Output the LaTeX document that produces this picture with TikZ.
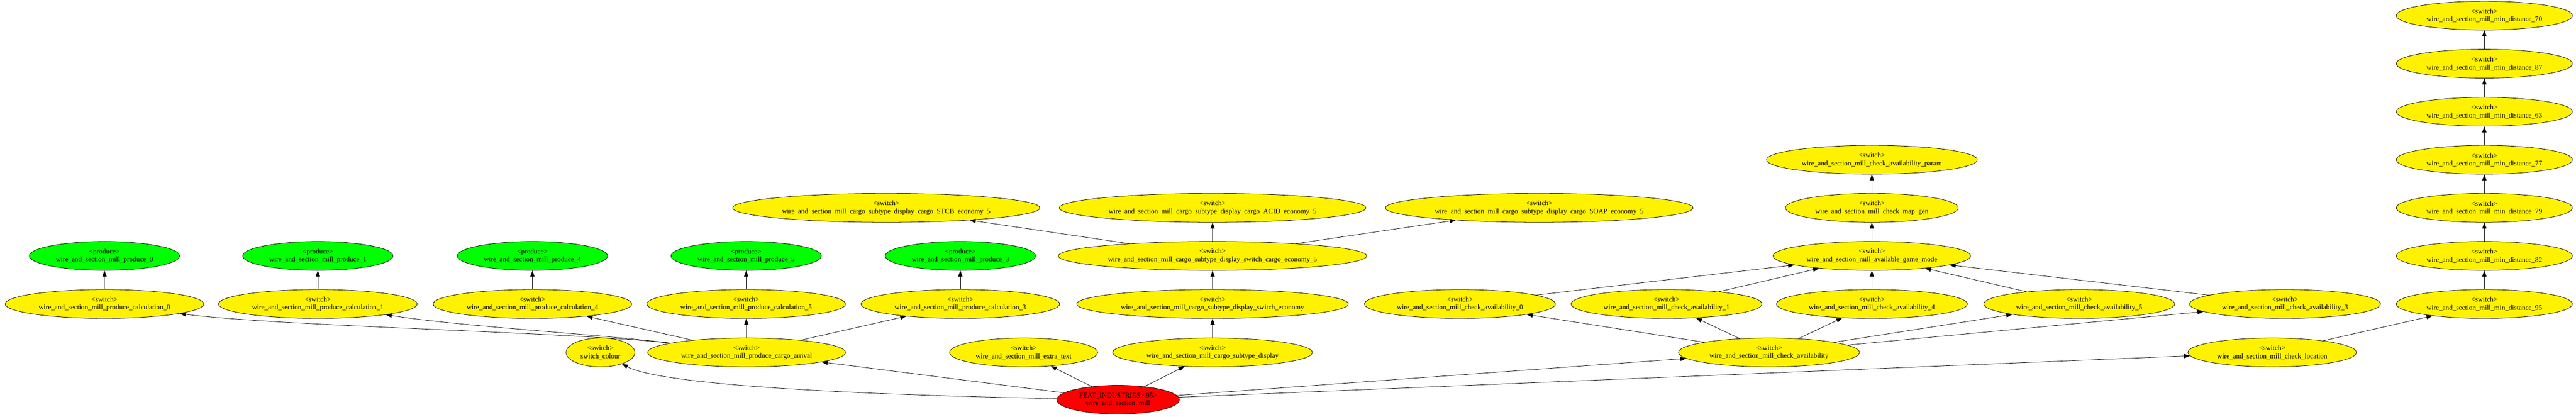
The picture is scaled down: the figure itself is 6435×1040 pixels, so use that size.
\documentclass[tikz,border=0pt]{standalone}
\usepackage{fontspec}
\setmainfont{Liberation Serif}
\usetikzlibrary{shapes.geometric,arrows.meta}

\tikzset{
  swnode/.style={draw, ellipse, fill=yellow, line width=0.8pt, inner xsep=9pt, inner ysep=0pt,
    minimum height=57.6pt, align=center, font=\fontsize{14}{16}\selectfont},
  prodnode/.style={swnode, fill=green},
  featnode/.style={swnode, fill=red},
  edge/.style={draw, line width=0.8pt, -{Triangle[length=12pt,width=8.5pt]}}
}

\begin{document}
\begin{tikzpicture}[x=0.8pt, y=-0.8pt]
  \useasboundingbox (0,0) rectangle (6435,1040);

  % Raiz
  \node[featnode] (root) at (2793,998) {FEAT\_INDUSTRIES <95>\\wire\_and\_section\_mill};

  % Primer nivel
  \node[swnode] (colour) at (1500,880) {<switch>\\switch\_colour};
  \node[swnode] (arrival) at (1865,880) {<switch>\\wire\_and\_section\_mill\_produce\_cargo\_arrival};
  \node[swnode] (extra) at (2557,880) {<switch>\\wire\_and\_section\_mill\_extra\_text};
  \node[swnode] (display) at (3029,880) {<switch>\\wire\_and\_section\_mill\_cargo\_subtype\_display};
  \node[swnode] (avail) at (4419,880) {<switch>\\wire\_and\_section\_mill\_check\_availability};
  \node[swnode] (location) at (5676,880) {<switch>\\wire\_and\_section\_mill\_check\_location};

  \draw[edge] (root) .. controls (2100,985) and (1650,960) .. (colour);
  \foreach \n in {arrival, extra, display, avail, location}
    \draw[edge] (root) -- (\n);

  % Produccion
  \foreach \i/\x in {0/261, 1/794, 4/1330, 5/1864, 3/2399} {
    \node[prodnode] (prod\i) at (\x,639) {<produce>\\wire\_and\_section\_mill\_produce\_\i};
    \node[swnode] (calc\i) at (\x,759) {<switch>\\wire\_and\_section\_mill\_produce\_calculation\_\i};
    \draw[edge] (calc\i) -- (prod\i);
  }
  \draw[edge] (arrival) .. controls (1450,830) and (700,815) .. (calc0);
  \draw[edge] (arrival) .. controls (1500,835) and (1150,815) .. (calc1);
  \foreach \i in {4,5,3}
    \draw[edge] (arrival) -- (calc\i);

  % Subtipos de carga
  \node[swnode] (economy) at (3029,759) {<switch>\\wire\_and\_section\_mill\_cargo\_subtype\_display\_switch\_economy};
  \node[swnode] (economy5) at (3029,639) {<switch>\\wire\_and\_section\_mill\_cargo\_subtype\_display\_switch\_cargo\_economy\_5};
  \node[swnode] (stcb) at (2214,519) {<switch>\\wire\_and\_section\_mill\_cargo\_subtype\_display\_cargo\_STCB\_economy\_5};
  \node[swnode] (acid) at (3029,519) {<switch>\\wire\_and\_section\_mill\_cargo\_subtype\_display\_cargo\_ACID\_economy\_5};
  \node[swnode] (soap) at (3845,519) {<switch>\\wire\_and\_section\_mill\_cargo\_subtype\_display\_cargo\_SOAP\_economy\_5};
  \draw[edge] (display) -- (economy);
  \draw[edge] (economy) -- (economy5);
  \foreach \n in {stcb, acid, soap}
    \draw[edge] (economy5) -- (\n);

  % Disponibilidad
  \node[swnode] (mode) at (4676,639) {<switch>\\wire\_and\_section\_mill\_available\_game\_mode};
  \node[swnode] (mapgen) at (4676,519) {<switch>\\wire\_and\_section\_mill\_check\_map\_gen};
  \node[swnode] (param) at (4676,399) {<switch>\\wire\_and\_section\_mill\_check\_availability\_param};
  \foreach \i/\x in {0/3647, 1/4163, 4/4676, 5/5194, 3/5708} {
    \node[swnode] (check\i) at (\x,759) {<switch>\\wire\_and\_section\_mill\_check\_availability\_\i};
    \draw[edge] (avail) -- (check\i);
    \draw[edge] (check\i) -- (mode);
  }
  \draw[edge] (mode) -- (mapgen);
  \draw[edge] (mapgen) -- (param);

  % Distancias minimas
  \foreach \d/\y in {95/759, 82/639, 79/519, 77/399, 63/279, 87/159, 70/39}
    \node[swnode] (dist\d) at (6206,\y) {<switch>\\wire\_and\_section\_mill\_min\_distance\_\d};
  \draw[edge] (location) -- (dist95);
  \draw[edge] (dist95) -- (dist82);
  \draw[edge] (dist82) -- (dist79);
  \draw[edge] (dist79) -- (dist77);
  \draw[edge] (dist77) -- (dist63);
  \draw[edge] (dist63) -- (dist87);
  \draw[edge] (dist87) -- (dist70);
\end{tikzpicture}
\end{document}
